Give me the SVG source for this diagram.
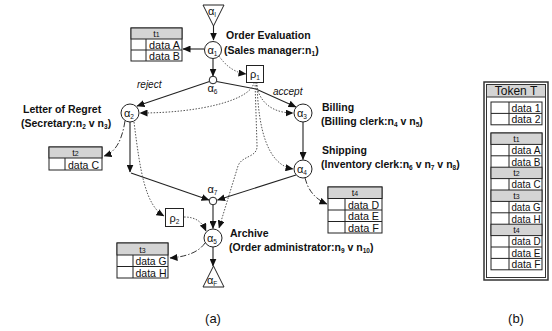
<svg xmlns="http://www.w3.org/2000/svg" width="552" height="331" viewBox="0 0 552 331">
<style>
text{font-family:"Liberation Sans",Arial,sans-serif;fill:#111}
.lbl{font-weight:bold;font-size:10.5px}
.it{font-style:italic;font-size:10px}
.al{font-size:11px}
.sb{font-size:6.5px}
.dt{font-size:11.5px}
.th{font-size:9px}
.nd{fill:#fff;stroke:#222;stroke-width:1}
.tb{fill:#fff;stroke:#222;stroke-width:1}
.hd{fill:#d4d4d4;stroke:#222;stroke-width:1}
.ln{fill:none;stroke:#222;stroke-width:1}
.s{fill:none;stroke:#222;stroke-width:1.1}
.d{fill:none;stroke:#555;stroke-width:1;stroke-dasharray:1.5 1.5}
.dd{fill:none;stroke:#333;stroke-width:1;stroke-dasharray:6 2 1.5 2}
</style>
<defs>
<marker id="ah" markerUnits="userSpaceOnUse" markerWidth="8" markerHeight="7" refX="7.5" refY="3.5" orient="auto">
<path d="M0,0 L8,3.5 L0,7 z" fill="#111"/>
</marker>
</defs>

<g id="connectors">
<path class="s" d="M213.5,26 L213.5,40" marker-end="url(#ah)"/>
<path class="s" d="M204,49 L183,49" marker-end="url(#ah)"/>
<path class="s" d="M213,58.5 L213,76" marker-end="url(#ah)"/>
<path class="d" d="M219,56 Q230,72 246,74" marker-end="url(#ah)"/>
<path class="s" d="M209.5,81.5 L137,106" marker-end="url(#ah)"/>
<path class="s" d="M216.5,81.5 L256,89 L296,107" marker-end="url(#ah)"/>
<path class="d" d="M254,82 C252,100 200,113 140,113" marker-end="url(#ah)"/>
<path class="d" d="M256,82 C258,100 270,113 293,113" marker-end="url(#ah)"/>
<path class="d" d="M257,82 C258,130 268,165 293,169" marker-end="url(#ah)"/>
<path class="d" d="M255,82 L257,145 C258,158 242,155 238,166 L219,228" marker-end="url(#ah)"/>
<path class="s" d="M303,122 L303,159.5" marker-end="url(#ah)"/>
<path class="s" d="M130,122 L130,172" marker-end="url(#ah)"/>
<path class="s" d="M131,173 L209,200" marker-end="url(#ah)"/>
<path class="s" d="M296,175 L217.5,200" marker-end="url(#ah)"/>
<path class="s" d="M213,205 L213,228.5" marker-end="url(#ah)"/>
<path class="s" d="M213,247 L213,266" marker-end="url(#ah)"/>
<path class="d" d="M134,122 C140,170 145,205 164,216" marker-end="url(#ah)"/>
<path class="d" d="M184,217 C196,217 202,222 206,231" marker-end="url(#ah)"/>
<path class="dd" d="M125,121 C122,140 116,152 104,156" marker-end="url(#ah)"/>
<path class="dd" d="M305,178 C308,190 315,199 327,204" marker-end="url(#ah)"/>
<path class="dd" d="M205,243 Q196,256 170,258" marker-end="url(#ah)"/>
</g>

<g id="alphaI">
<path class="nd" d="M203,5 L224,5 L213.5,26 z"/>
<text class="al" x="208" y="15">α<tspan class="sb" dy="2">I</tspan></text>
</g>
<g id="alpha1">
<circle class="nd" cx="213" cy="50" r="8.5"/>
<text class="al" x="207.5" y="53.5">α<tspan class="sb" dy="2">1</tspan></text>
</g>
<g id="alpha6">
<circle class="nd" cx="213" cy="80" r="3.8"/>
<text class="al" x="207.5" y="92">α<tspan class="sb" dy="2">6</tspan></text>
</g>
<g id="rho1">
<rect class="nd" x="246.5" y="65.5" width="17" height="17"/>
<text class="al" x="250" y="78">ρ<tspan class="sb" dy="2">1</tspan></text>
</g>
<g id="alpha2">
<circle class="nd" cx="130" cy="113" r="9"/>
<text class="al" x="124" y="116.5">α<tspan class="sb" dy="2">2</tspan></text>
</g>
<g id="alpha3">
<circle class="nd" cx="303" cy="113" r="9"/>
<text class="al" x="297" y="116.5">α<tspan class="sb" dy="2">3</tspan></text>
</g>
<g id="alpha4">
<circle class="nd" cx="303" cy="169" r="9"/>
<text class="al" x="297" y="172.5">α<tspan class="sb" dy="2">4</tspan></text>
</g>
<g id="alpha7">
<circle class="nd" cx="213" cy="201" r="3.8"/>
<text class="al" x="207.5" y="193">α<tspan class="sb" dy="2">7</tspan></text>
</g>
<g id="rho2">
<rect class="nd" x="165.5" y="208.5" width="18" height="18"/>
<text class="al" x="169.5" y="221.5">ρ<tspan class="sb" dy="2">2</tspan></text>
</g>
<g id="alpha5">
<circle class="nd" cx="213" cy="238" r="9"/>
<text class="al" x="207" y="241.5">α<tspan class="sb" dy="2">5</tspan></text>
</g>
<g id="alphaF">
<path class="nd" d="M213.5,266 L224,287 L203,287 z"/>
<text class="al" x="207" y="284">α<tspan class="sb" dy="2">F</tspan></text>
</g>

<g id="labels">
<text class="lbl" x="226" y="39">Order Evaluation</text>
<text class="lbl" x="224" y="53.5">(Sales manager:n<tspan class="sb" dy="2">1</tspan><tspan dy="-2">)</tspan></text>
<text class="lbl" x="23" y="113">Letter of Regret</text>
<text class="lbl" x="21" y="127">(Secretary:n<tspan class="sb" dy="2">2</tspan><tspan dy="-2"> v n</tspan><tspan class="sb" dy="2">3</tspan><tspan dy="-2">)</tspan></text>
<text class="lbl" x="322" y="111">Billing</text>
<text class="lbl" x="321" y="125">(Billing clerk:n<tspan class="sb" dy="2">4</tspan><tspan dy="-2"> v n</tspan><tspan class="sb" dy="2">5</tspan><tspan dy="-2">)</tspan></text>
<text class="lbl" x="322" y="154">Shipping</text>
<text class="lbl" x="321" y="168">(Inventory clerk:n<tspan class="sb" dy="2">6</tspan><tspan dy="-2"> v n</tspan><tspan class="sb" dy="2">7</tspan><tspan dy="-2"> v n</tspan><tspan class="sb" dy="2">8</tspan><tspan dy="-2">)</tspan></text>
<text class="lbl" x="230" y="237">Archive</text>
<text class="lbl" x="229" y="251">(Order administrator:n<tspan class="sb" dy="2">9</tspan><tspan dy="-2"> v n</tspan><tspan class="sb" dy="2">10</tspan><tspan dy="-2">)</tspan></text>
<text class="it" x="137" y="88">reject</text>
<text class="it" x="273" y="95">accept</text>
<text x="213" y="323" text-anchor="middle" font-size="13">(a)</text>
<text x="516" y="323" text-anchor="middle" font-size="13">(b)</text>
</g>

<g id="t1">
<rect class="tb" x="131" y="28" width="51" height="33"/>
<rect class="hd" x="131" y="28" width="51" height="11"/>
<path class="ln" d="M131,50 H182 M146,39 V61"/>
<text class="th" x="156.5" y="37" text-anchor="middle">t<tspan font-size="7">1</tspan></text>
<text class="dt" x="149" y="48.5" textLength="31" lengthAdjust="spacingAndGlyphs">data A</text>
<text class="dt" x="149" y="59.5" textLength="31" lengthAdjust="spacingAndGlyphs">data B</text>
</g>
<g id="t2">
<rect class="tb" x="49" y="147" width="53" height="23"/>
<rect class="hd" x="49" y="147" width="53" height="11"/>
<path class="ln" d="M65,158 V170"/>
<text class="th" x="75.5" y="156" text-anchor="middle">t<tspan font-size="7">2</tspan></text>
<text class="dt" x="68" y="168.5" textLength="31" lengthAdjust="spacingAndGlyphs">data C</text>
</g>
<g id="t3">
<rect class="tb" x="117" y="243" width="51" height="35"/>
<rect class="hd" x="117" y="243" width="51" height="12"/>
<path class="ln" d="M117,266.5 H168 M133,255 V278"/>
<text class="th" x="142.5" y="252.5" text-anchor="middle">t<tspan font-size="7">3</tspan></text>
<text class="dt" x="135.5" y="265" textLength="31" lengthAdjust="spacingAndGlyphs">data G</text>
<text class="dt" x="135.5" y="276.5" textLength="31" lengthAdjust="spacingAndGlyphs">data H</text>
</g>
<g id="t4">
<rect class="tb" x="328" y="187" width="54" height="46"/>
<rect class="hd" x="328" y="187" width="54" height="11.5"/>
<path class="ln" d="M328,210 H382 M328,221.5 H382 M345,198.5 V233"/>
<text class="th" x="355" y="196" text-anchor="middle">t<tspan font-size="7">4</tspan></text>
<text class="dt" x="348" y="208.5" textLength="31" lengthAdjust="spacingAndGlyphs">data D</text>
<text class="dt" x="348" y="220" textLength="31" lengthAdjust="spacingAndGlyphs">data E</text>
<text class="dt" x="348" y="231.5" textLength="31" lengthAdjust="spacingAndGlyphs">data F</text>
</g>

<g id="tokenT">
<rect x="484" y="82" width="64" height="198" fill="#fff" stroke="#333" stroke-width="1.5"/>
<rect x="486.5" y="84.5" width="59" height="193" fill="none" stroke="#333" stroke-width="1"/>
<rect x="486.5" y="84.5" width="59" height="12.5" fill="#d4d4d4" stroke="#333" stroke-width="1"/>
<text x="516" y="94.5" text-anchor="middle" font-size="12">Token T</text>
<rect class="tb" x="491" y="102" width="51" height="22.8"/>
<path class="ln" d="M491,113.4 H542 M509,102 V124.8"/>
<text class="dt" x="511.5" y="111.7" textLength="29" lengthAdjust="spacingAndGlyphs">data 1</text>
<text class="dt" x="511.5" y="123.1" textLength="29" lengthAdjust="spacingAndGlyphs">data 2</text>
<rect class="tb" x="491" y="133" width="51" height="136.8"/>
<rect class="hd" x="491" y="133" width="51" height="11.4"/>
<rect class="hd" x="491" y="167.2" width="51" height="11.4"/>
<rect class="hd" x="491" y="190" width="51" height="11.4"/>
<rect class="hd" x="491" y="224.2" width="51" height="11.4"/>
<path class="ln" d="M491,155.8 H542 M491,212.8 H542 M491,247 H542 M491,258.4 H542 M509,144.4 V167.2 M509,178.6 V190 M509,201.4 V224.2 M509,235.6 V269.8"/>
<text class="th" x="516.5" y="141.5" text-anchor="middle">t<tspan font-size="7">1</tspan></text>
<text class="dt" x="511.5" y="154.1" textLength="29" lengthAdjust="spacingAndGlyphs">data A</text>
<text class="dt" x="511.5" y="165.5" textLength="29" lengthAdjust="spacingAndGlyphs">data B</text>
<text class="th" x="516.5" y="175.7" text-anchor="middle">t<tspan font-size="7">2</tspan></text>
<text class="dt" x="511.5" y="188.3" textLength="29" lengthAdjust="spacingAndGlyphs">data C</text>
<text class="th" x="516.5" y="198.5" text-anchor="middle">t<tspan font-size="7">3</tspan></text>
<text class="dt" x="511.5" y="211.1" textLength="29" lengthAdjust="spacingAndGlyphs">data G</text>
<text class="dt" x="511.5" y="222.5" textLength="29" lengthAdjust="spacingAndGlyphs">data H</text>
<text class="th" x="516.5" y="232.7" text-anchor="middle">t<tspan font-size="7">4</tspan></text>
<text class="dt" x="511.5" y="245.3" textLength="29" lengthAdjust="spacingAndGlyphs">data D</text>
<text class="dt" x="511.5" y="256.7" textLength="29" lengthAdjust="spacingAndGlyphs">data E</text>
<text class="dt" x="511.5" y="268.1" textLength="29" lengthAdjust="spacingAndGlyphs">data F</text>
</g>
</svg>
